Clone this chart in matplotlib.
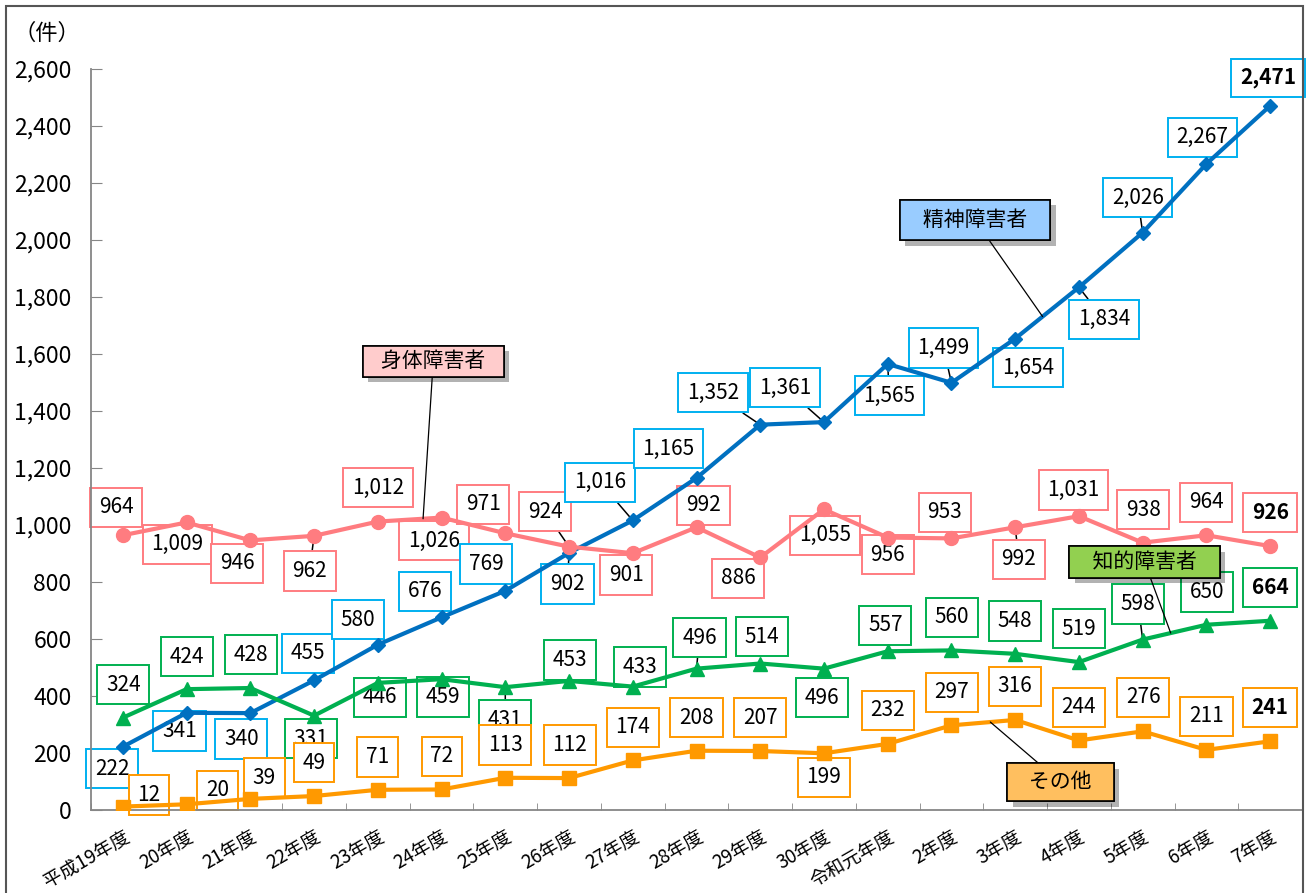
import numpy as np
import matplotlib
matplotlib.use("Agg")
import matplotlib.pyplot as plt
from matplotlib import patheffects
from matplotlib.patches import Rectangle
from matplotlib.ticker import FuncFormatter

plt.rcParams['font.family'] = ['Noto Sans CJK JP', 'DejaVu Sans']

# --- data ---
years = ['平成19年度', '20年度', '21年度', '22年度', '23年度', '24年度', '25年度',
         '26年度', '27年度', '28年度', '29年度', '30年度', '令和元年度', '2年度',
         '3年度', '4年度', '5年度', '6年度', '7年度']
seishin = [222, 341, 340, 455, 580, 676, 769, 902, 1016, 1165, 1352, 1361,
           1565, 1499, 1654, 1834, 2026, 2267, 2471]
shintai = [964, 1009, 946, 962, 1012, 1026, 971, 924, 901, 992, 886, 1055,
           956, 953, 992, 1031, 938, 964, 926]
chiteki = [324, 424, 428, 331, 446, 459, 431, 453, 433, 496, 514, 496,
           557, 560, 548, 519, 598, 650, 664]
sonota = [12, 20, 39, 49, 71, 72, 113, 112, 174, 208, 207, 199,
          232, 297, 316, 244, 276, 211, 241]

# label offsets (pixels) from each point
off_shintai = [(-6.5, 28), (-9, -22), (-13, -23), (-4.5, -35), (0, 34), (-7.5, -23),
               (-22, 29), (-24, 35), (-6.5, -22), (7, 22), (-22, -21), (1, -26),
               (0, -17), (-6.5, 26), (3.7, -32), (-5.5, 26), (0.5, 33), (0, 33), (0, 33.5)]
off_seishin = [(-10.5, -22), (-7, -18), (-9, -26), (-6.5, 27), (-20, 25), (-16.5, 26),
               (-19, 27), (-1.5, -31), (-32.6, 38), (-28, 29.5), (-47.5, 32), (-39, 34.5),
               (1.6, -31.5), (-8, 35), (13, -29), (25, -32), (-5, 35), (-4, 26.5), (-2, 28)]
off_chiteki = [(0.5, 33), (0, 32.5), (0.6, 33.5), (-3, -23), (1.7, -14.5), (1.5, -18),
               (0, -33), (1, 21), (7.4, 19.6), (3, 31), (2, 27), (-2, -29), (-2.4, 26),
               (0.5, 33), (0, 33), (0, 33.5), (-4.5, 35.6), (0.5, 33), (0, 33.3)]
off_sonota = [(26, 11.6), (31, 14), (14, 21), (0, 33.5), (0, 33), (0.5, 33), (0, 33),
              (0.6, 33), (0, 33), (0, 33), (0, 33.5), (0, -24), (0, 33.4), (0.5, 33),
              (0, 33.5), (0, 33), (0.5, 34), (0, 33.4), (0, 33.8)]

x = np.arange(len(years))

fig = plt.figure(figsize=(13.11, 8.93), dpi=100)
ax = fig.add_axes([91 / 1311, 1 - 810 / 893, (1302 - 91) / 1311, (810 - 69) / 893])

# lines
ax.plot(x, seishin, color='#0070C0', lw=3, marker='D', ms=7.5, zorder=4)
ax.plot(x, shintai, color='#FF7C80', lw=3, marker='o', ms=10, zorder=4)
ax.plot(x, chiteki, color='#00B050', lw=3, marker='^', ms=10, zorder=4)
ax.plot(x, sonota, color='#FF9900', lw=3, marker='s', ms=9.5, zorder=4)


def put_labels(vals, offs, edge, leaders=()):
    for i, (v, (dx, dy)) in enumerate(zip(vals, offs)):
        last = i == len(vals) - 1
        arrow = None
        if i in leaders:
            arrow = dict(arrowstyle='-', color='black', lw=1.1, shrinkA=0, shrinkB=0)
        ax.annotate(f"{v:,}", xy=(x[i], v), xytext=(dx, dy), textcoords='offset pixels',
                    ha='center', va='center', fontsize=15,
                    fontweight='bold' if last else 'normal',
                    bbox=dict(boxstyle='square,pad=0.42', fc='white', ec=edge, lw=1.4),
                    arrowprops=arrow, zorder=2)


put_labels(shintai, off_shintai, '#FF7C80', leaders=(3, 7, 14))
put_labels(seishin, off_seishin, '#00B0F0', leaders=(7, 8, 10, 11, 12, 13, 15, 16))
put_labels(chiteki, off_chiteki, '#00B050', leaders=(6, 9, 16))
put_labels(sonota, off_sonota, '#FF9900')


# series name callouts
def callout(name, vals, xpt, txt_xy, face, pad):
    yp = np.interp(xpt, x, vals)
    t = ax.annotate(name, xy=(xpt, yp), xytext=txt_xy, textcoords='data',
                    ha='center', va='center', fontsize=15,
                    bbox=dict(boxstyle=f'square,pad={pad}', fc=face, ec='black', lw=1.2),
                    arrowprops=dict(arrowstyle='-', color='black', lw=0.9,
                                    shrinkA=0, shrinkB=0),
                    zorder=6)
    t.get_bbox_patch().set_path_effects([
        patheffects.withSimplePatchShadow(offset=(4, -4), shadow_rgbFace='black', alpha=0.3),
        patheffects.Normal()])


callout('   精神障害者   ', seishin, 14.43, (13.37, 2070), '#99CCFF', 0.45)
callout('   身体障害者   ', shintai, 4.71, (4.87, 1575), '#FFCCCC', 0.22)
callout('    知的障害者    ', chiteki, 16.44, (16.03, 870), '#92D050', 0.22)
callout('   その他   ', sonota, 13.61, (14.71, 98), '#FFBF5F', 0.38)

# axes styling
ax.set_xlim(-0.5, len(years) - 0.5)
ax.set_ylim(0, 2600)
ax.set_yticks(np.arange(0, 2601, 200))
ax.yaxis.set_major_formatter(FuncFormatter(lambda v, p: f"{int(v):,}"))
ax.tick_params(axis='y', direction='in', length=8, color='#868686', labelsize=16.5, pad=14)

ax.set_xticks(x)
ax.set_xticklabels(years, rotation=30, ha='right', rotation_mode='anchor')
ax.set_xticks(np.arange(-0.5, len(years), 1), minor=True)
ax.tick_params(axis='x', which='major', length=0, labelsize=13.5, pad=12)
ax.tick_params(axis='x', which='minor', direction='in', length=5, color='#868686')

for s in ['top', 'right']:
    ax.spines[s].set_visible(False)
for s in ['left', 'bottom']:
    ax.spines[s].set_color('#868686')
    ax.spines[s].set_linewidth(1.3)

fig.text(47 / 1311, 1 - 33 / 893, '（件）', fontsize=16, ha='center', va='center')

# outer frame
fig.add_artist(Rectangle((6 / 1311, -0.01), (1303 - 6) / 1311, 1 - 6 / 893 + 0.01,
                         transform=fig.transFigure, fill=False, ec='#555555', lw=1.5))

fig.savefig('out.png', dpi=100)
